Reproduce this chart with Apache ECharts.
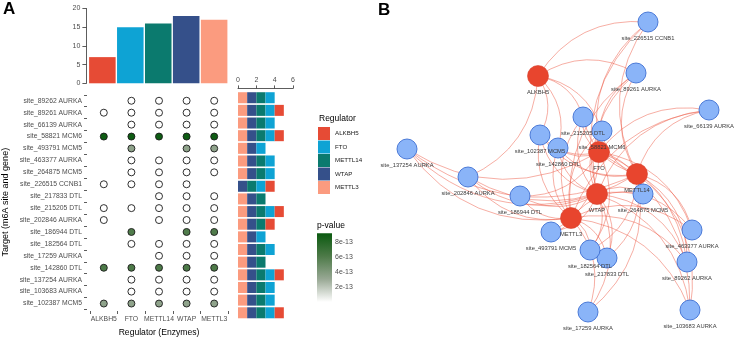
<!DOCTYPE html>
<html>
<head>
<meta charset="utf-8">
<script src="https://cdn.jsdelivr.net/npm/echarts@6/dist/echarts.min.js"></script>
<style>
  html, body { margin: 0; padding: 0; background: #fff; }
  #main { width: 740px; height: 342px; }
</style>
</head>
<body>
<div id="main"></div>
<script>
// regulators and targets
const regulators = ['ALKBH5', 'FTO', 'METTL14', 'WTAP', 'METTL3'];
const regColors = ['#e64b35', '#0ea3d4', '#0b7a6e', '#35508a', '#fb9b7f'];
const sites = [
    'site_89262 AURKA', 'site_89261 AURKA', 'site_66139 AURKA', 'site_58821 MCM6',
    'site_493791 MCM5', 'site_463377 AURKA', 'site_264875 MCM5', 'site_226515 CCNB1',
    'site_217833 DTL', 'site_215205 DTL', 'site_202846 AURKA', 'site_186944 DTL',
    'site_182564 DTL', 'site_17259 AURKA', 'site_142860 DTL', 'site_137254 AURKA',
    'site_103683 AURKA', 'site_102387 MCM5'
];

// 1 = regulator targets the site (same order as sites)
const hitALKBH5  = [0,1,0,1,0,0,0,1,0,1,1,0,0,0,1,0,0,1];
const hitFTO     = [1,1,1,1,1,1,1,1,0,1,0,1,1,0,1,1,1,1];
const hitMETTL14 = [1,1,1,1,0,1,1,1,1,1,1,0,1,1,1,1,1,1];
const hitWTAP    = [1,1,1,1,1,1,1,1,1,1,1,1,1,1,1,1,1,1];
const hitMETTL3  = [1,1,1,1,1,1,1,0,1,1,1,1,1,1,1,1,1,1];

// p-value per site
const pValues = [0,0,0,9.0e-13,3.4e-13,0,0,0,0,0,0,6.0e-13,0,0,6.1e-13,0,0,3.4e-13];
const pMax = 9.16e-13;
const pTicks = [2, 4, 6, 8]; // in units of 1e-13

// network layout coordinates: regulators first, then sites
const netX = [538, 599, 637, 597, 571,
    687, 636, 709, 602, 551, 692, 643, 648, 607, 583, 468, 520, 590, 588, 558, 407, 690, 540];
const netY = [76, 152, 174, 194, 218,
    262, 73, 110, 131, 232, 230, 194, 22, 258, 117, 177, 196, 250, 312, 148, 149, 310, 135];

const hits = [hitALKBH5, hitFTO, hitMETTL14, hitWTAP, hitMETTL3];
const greens = ['#ffffff', '#98a894', '#4d7a48', '#0b5a10'];
const font = '"Liberation Sans", Arial, sans-serif';
const axisGrey = '#4d4d4d';
const lineGrey = '#333333';

let chart = echarts.init(document.getElementById('main'), null, { renderer: 'canvas' });

// top bars: number of targets per regulator
let regCounts = hits.map(h => h.reduce((a, b) => a + b, 0));

// dots
let dotData = [];
sites.forEach((s, i) => {
    regulators.forEach((r, j) => {
        if (hits[j][i]) dotData.push([r, s, pValues[i]]);
    });
});

// stacked bars (METTL3 at the left)
let stackOrder = [4, 3, 2, 1, 0];
let stackSeries = stackOrder.map(j => ({
    name: regulators[j],
    type: 'bar',
    xAxisIndex: 2,
    yAxisIndex: 2,
    stack: 'n',
    barCategoryGap: '13%',
    itemStyle: { color: regColors[j] },
    data: hits[j].map(h => h ? 1 : '-'),
    silent: true
}));

// network
let netNames = regulators.concat(sites);
let netNodes = netNames.map((n, k) => {
    let isReg = k < regulators.length;
    return {
        name: n,
        x: netX[k],
        y: netY[k],
        symbolSize: isReg ? 21 : 20,
        itemStyle: isReg
            ? { color: '#e8452e', borderColor: '#d8402b', borderWidth: 0.6 }
            : { color: '#8ab4f8', borderColor: '#3e6fd2', borderWidth: 0.9 }
    };
});
let netLinks = [];
regulators.forEach((r, j) => {
    sites.forEach((s, i) => {
        if (hits[j][i]) netLinks.push({ source: r, target: s });
    });
});
let minX = Math.min(...netX), maxX = Math.max(...netX);
let minY = Math.min(...netY), maxY = Math.max(...netY);

let option = {
    animation: false,
    textStyle: { fontFamily: font },
    title: [
        { text: 'A', left: 3, top: 1, padding: 0, textStyle: { fontSize: 17, fontWeight: 'bold', color: '#000' } },
        { text: 'B', left: 378, top: 2, padding: 0, textStyle: { fontSize: 17, fontWeight: 'bold', color: '#000' } },
        { text: 'Regulator', left: 319, top: 114, padding: 0, textStyle: { fontSize: 8.5, fontWeight: 'normal', color: '#000' } },
        { text: 'p-value', left: 317, top: 221, padding: 0, textStyle: { fontSize: 8.5, fontWeight: 'normal', color: '#000' } }
    ],
    legend: {
        data: regulators,
        orient: 'vertical',
        left: 318,
        top: 127,
        padding: 0,
        itemWidth: 12,
        itemHeight: 13,
        itemGap: 0.5,
        itemStyle: { borderWidth: 0 },
        icon: 'rect',
        selectedMode: false,
        textStyle: { fontSize: 6.2, color: '#222', padding: [0, 0, 0, 0] }
    },
    visualMap: {
        show: false,
        seriesIndex: 1,
        dimension: 2,
        min: 0,
        max: pMax,
        inRange: { color: greens }
    },
    grid: [
        { left: 88.4, top: 8.5, width: 139.7, height: 74.8 },
        { left: 89, top: 94.8, width: 139, height: 222.4 },
        { left: 238, top: 91.4, width: 55, height: 227.7 },
        { left: 317, top: 233.3, width: 15, height: 68.7 }
    ],
    xAxis: [
        { gridIndex: 0, type: 'category', data: regulators, show: false },
        {
            gridIndex: 1, type: 'category', data: regulators, offset: 1.5,
            axisLine: { show: false },
            axisTick: { show: true, length: 3, interval: 0, lineStyle: { color: lineGrey, width: 0.8 } },
            axisLabel: { fontSize: 6.8, color: axisGrey, margin: 5, interval: 0 },
            name: 'Regulator (Enzymes)', nameLocation: 'middle', nameGap: 17,
            nameTextStyle: { fontSize: 8.6, color: '#000' }
        },
        {
            gridIndex: 2, type: 'value', position: 'top', min: 0, max: 6, interval: 2, offset: 3,
            axisLine: { show: true, lineStyle: { color: lineGrey, width: 0.8 } },
            axisTick: { show: true, length: 3, lineStyle: { color: lineGrey, width: 0.8 } },
            axisLabel: { fontSize: 7, color: axisGrey, margin: 5 },
            splitLine: { show: false }
        },
        { gridIndex: 3, type: 'category', data: ['p'], show: false }
    ],
    yAxis: [
        {
            gridIndex: 0, type: 'value', min: 0, max: 20, interval: 5, offset: 2,
            axisLine: { show: true, lineStyle: { color: lineGrey, width: 0.8 } },
            axisTick: { show: true, length: 4, lineStyle: { color: lineGrey, width: 0.8 } },
            axisLabel: { fontSize: 7, color: axisGrey, margin: 6 },
            splitLine: { show: false }
        },
        {
            gridIndex: 1, type: 'category', data: sites, inverse: true, offset: 3,
            axisLine: { show: false },
            axisTick: { show: true, length: 3, interval: 0, lineStyle: { color: lineGrey, width: 0.8 } },
            axisLabel: { fontSize: 6.8, color: axisGrey, margin: 5, interval: 0 },
            name: 'Target (m6A site and gene)', nameLocation: 'middle', nameGap: 77,
            nameTextStyle: { fontSize: 9, color: '#000' }
        },
        { gridIndex: 2, type: 'category', data: sites, inverse: true, show: false },
        {
            gridIndex: 3, type: 'value', min: 0, max: pMax / 1e-13, position: 'right',
            axisLine: { show: false },
            axisTick: { show: false },
            splitLine: { show: false },
            axisLabel: {
                fontSize: 7, color: axisGrey, margin: 3,
                formatter: v => pTicks.indexOf(Math.round(v * 1000) / 1000) >= 0 ? v + 'e-13' : ''
            },
            interval: 2
        }
    ],
    series: [
        {
            name: 'count',
            type: 'bar',
            xAxisIndex: 0,
            yAxisIndex: 0,
            barCategoryGap: '5%',
            silent: true,
            data: regCounts.map((c, j) => ({ value: c, itemStyle: { color: regColors[j] } }))
        },
        {
            name: 'dots',
            type: 'scatter',
            xAxisIndex: 1,
            yAxisIndex: 1,
            symbolSize: 7,
            silent: true,
            itemStyle: { borderColor: '#1a1a1a', borderWidth: 0.9, opacity: 1 },
            data: dotData
        },
        ...stackSeries,
        {
            name: 'pbar',
            type: 'bar',
            xAxisIndex: 3,
            yAxisIndex: 3,
            barWidth: '100%',
            silent: true,
            itemStyle: {
                color: new echarts.graphic.LinearGradient(0, 0, 0, 1, [
                    { offset: 0, color: greens[3] },
                    { offset: 0.333, color: greens[2] },
                    { offset: 0.667, color: greens[1] },
                    { offset: 1, color: greens[0] }
                ])
            },
            data: [pMax / 1e-13]
        },
        {
            name: 'network',
            type: 'graph',
            layout: 'none',
            left: minX,
            top: minY,
            width: maxX - minX,
            height: maxY - minY,
            silent: true,
            data: netNodes,
            links: netLinks,
            edgeSymbol: ['none', 'none'],
            lineStyle: { color: '#ee5f4c', width: 0.6, opacity: 0.85, curveness: 0.3 },
            label: { show: true, position: 'bottom', distance: 3, fontSize: 5.8, color: '#3a3a3a' },
            emphasis: { disabled: true }
        }
    ]
};

chart.setOption(option);
</script>
</body>
</html>
